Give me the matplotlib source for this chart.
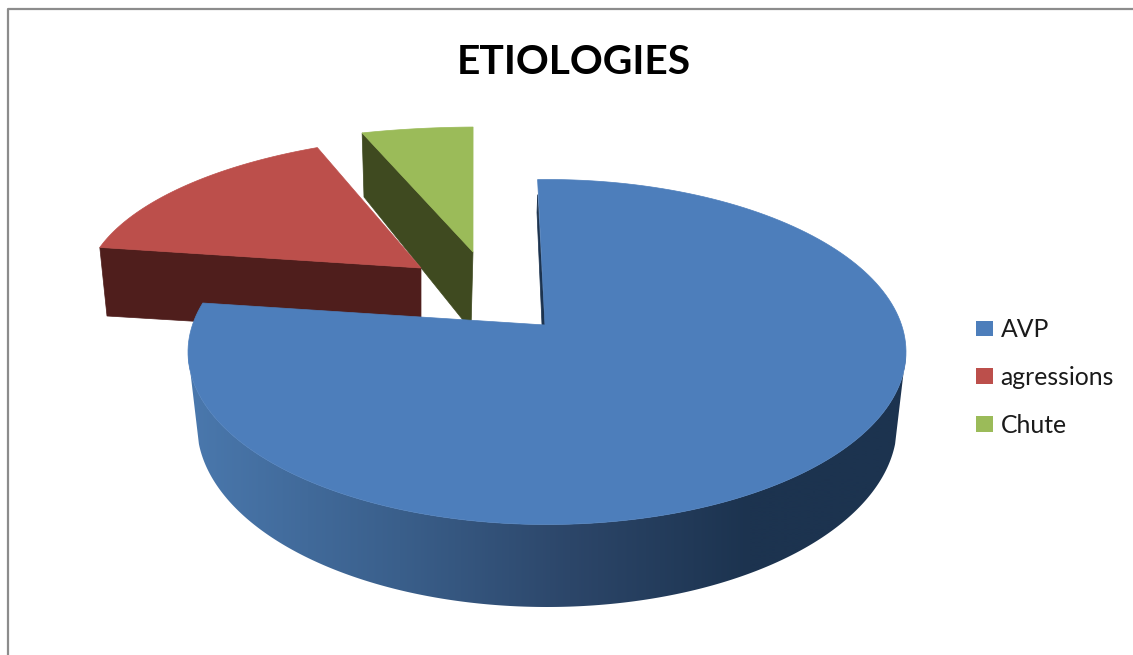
import numpy as np
import matplotlib
matplotlib.use("Agg")
import matplotlib.pyplot as plt
from matplotlib.patches import Patch, Polygon

# chart data, percent
labels = ["AVP", "agressions", "Chute"]
shares = [80, 14, 6]
top_colors = ["#4d7ebb", "#bc4f4b", "#9bbb59"]
wall_colors = ["#1c334f", "#4f1e1c", "#3f4a20"]

# start angle, degrees clockwise from 12 o'clock
START = -1.5

# pixel geometry of each exploded slice: rim ellipse + apex
BLUE = dict(cx=547, cy=352, rx=359, ry=172.5, apex=(545, 325))
RED = dict(cx=468, cy=292, rx=384, ry=157, apex=(421, 268))
GREEN = dict(cx=481, cy=201, rx=303, ry=74, apex=(473, 252))
BLUE_BOTTOM = dict(cx=547, cy=425, rx=350, ry=182)

# side shading of big slice: x pixel -> colour
grad_x = [190, 400, 570, 750, 910]
grad_r = [0x4a, 0x3a, 0x2c, 0x1c, 0x1c]
grad_g = [0x78, 0x5f, 0x46, 0x33, 0x33]
grad_b = [0xad, 0x8b, 0x69, 0x4f, 0x4f]


def rim(g, a0, a1, n=200):
    t = np.radians(np.linspace(a0, a1, n))
    return g["cx"] + g["rx"] * np.sin(t), g["cy"] - g["ry"] * np.cos(t)


def top_face(ax, g, a0, a1, color, z):
    x, y = rim(g, a0, a1)
    ax.fill(np.r_[g["apex"][0], x], np.r_[g["apex"][1], y], color=color, lw=0.5, zorder=z)


fig = plt.figure(figsize=(11.33, 6.55), dpi=100)
ax = fig.add_axes([0, 0, 1, 1])

# chart frame, only top and left fall inside the crop
ax.plot([8, 8, 1133], [655, 8.5, 8.5], color="#8c8c8c", lw=1.6, zorder=1)

edges = START + np.cumsum([0] + shares) * 3.6

# green slice
gx, gy = rim(GREEN, edges[2], edges[3])
ax.fill([gx[0], GREEN["apex"][0], 471, 364], [gy[0], GREEN["apex"][1], 330, gy[0] + 64],
        color=wall_colors[2], lw=0.5, zorder=2)
top_face(ax, GREEN, edges[2], edges[3], top_colors[2], 2.1)

# red slice
rx, ry = rim(RED, edges[1], edges[2])
ax.fill([rx[0], RED["apex"][0], 421, 107], [ry[0], RED["apex"][1], 335, 316],
        color=wall_colors[1], lw=0.5, zorder=2.5)
top_face(ax, RED, edges[1], edges[2], top_colors[1], 2.6)

# blue slice: curved side as a clipped gradient, then inner wall and top
x_top, y_top = rim(BLUE, 90, 270, 361)
x_bot, y_bot = rim(BLUE_BOTTOM, 96, 264, 361)  # skip arc ends so the outline stays smooth
side = np.c_[np.r_[x_top, x_bot[::-1]], np.r_[y_top, y_bot[::-1]]]
clip = Polygon(side, closed=True, transform=ax.transData, facecolor="none", edgecolor="none")
ax.add_patch(clip)
xs = np.arange(180, 921)
grad = np.dstack([np.interp(xs, grad_x, grad_r), np.interp(xs, grad_x, grad_g),
                  np.interp(xs, grad_x, grad_b)])[:] / 255
img = ax.imshow(grad, extent=(180, 920, 620, 340), aspect="auto", interpolation="bilinear", zorder=2.8)
img.set_clip_path(clip)

bx, by = rim(BLUE, edges[0], edges[1])
ax.fill([bx[0], 537, 542, BLUE["apex"][0]], [by[0] + 15, by[0] + 33, 325, 327],
        color=wall_colors[0], lw=0.5, zorder=2.9)
top_face(ax, BLUE, edges[0], edges[1], top_colors[0], 3)

ax.set_xlim(0, 1133)
ax.set_ylim(655, 0)
ax.axis("off")

# title and legend
ax.text(574, 62, "ETIOLOGIES", ha="center", va="center", fontsize=29.3, fontweight="bold",
        family=["Lato", "DejaVu Sans"], color="#000000")
handles = [Patch(facecolor=c, edgecolor="none") for c in top_colors]
leg = ax.legend(handles, labels, loc="center left", bbox_to_anchor=(976 / 1133, 1 - 377.5 / 655),
                frameon=False, handlelength=0.68, handleheight=0.6,
                labelspacing=1.0, handletextpad=0.32, borderpad=0, borderaxespad=0,
                prop=dict(family=["Lato", "DejaVu Sans"], size=17.8))
for t in leg.get_texts():
    t.set_color("#1a1a1a")

fig.savefig("out.png", dpi=100)
